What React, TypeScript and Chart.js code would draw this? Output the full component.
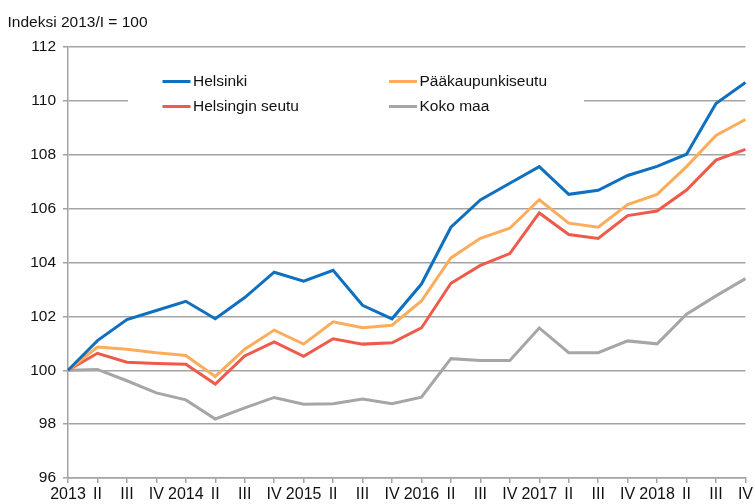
import React, { useEffect, useRef } from "react";
import { Chart, registerables } from "chart.js";

Chart.register(...registerables);

const quarterLabels = [
  "2013", "II", "III", "IV",
  "2014", "II", "III", "IV",
  "2015", "II", "III", "IV",
  "2016", "II", "III", "IV",
  "2017", "II", "III", "IV",
  "2018", "II", "III", "IV",
];

const helsinki = [
  100.0, 101.1, 101.88, 102.22, 102.56, 101.91, 102.7, 103.64,
  103.31, 103.71, 102.41, 101.91, 103.2, 105.31, 106.32, 106.94,
  107.56, 106.53, 106.68, 107.23, 107.57, 108.02, 109.9, 110.68,
];

const paakaupunkiseutu = [
  100.0, 100.86, 100.78, 100.65, 100.55, 99.77, 100.78, 101.49,
  100.97, 101.8, 101.58, 101.67, 102.57, 104.17, 104.9, 105.27,
  106.33, 105.46, 105.31, 106.15, 106.53, 107.56, 108.72, 109.31,
];

const helsinginSeutu = [
  100.0, 100.63, 100.3, 100.25, 100.22, 99.49, 100.53, 101.05,
  100.52, 101.17, 100.97, 101.02, 101.57, 103.23, 103.89, 104.33,
  105.84, 105.04, 104.89, 105.74, 105.91, 106.69, 107.8, 108.2,
];

const kokoMaa = [
  100.0, 100.03, 99.61, 99.16, 98.9, 98.19, 98.6, 98.99,
  98.74, 98.76, 98.93, 98.76, 99.0, 100.43, 100.36, 100.36,
  101.57, 100.65, 100.65, 101.09, 100.98, 102.08, 102.76, 103.4,
];

const yTicks = [96, 98, 100, 102, 104, 106, 108, 110, 112];

const titleText = "Indeksi 2013/I = 100";

const FONT = "'Liberation Sans', Arial, sans-serif";
const GRID = "#a3a3a3";

const colors = {
  helsinki: "#0f70bf",
  paak: "#fbad5b",
  seutu: "#ee5b4a",
  koko: "#a6a6a6",
};

const titlePlugin = {
  id: "titleText",
  afterDraw(chart: any) {
    const { ctx } = chart;
    ctx.save();
    ctx.font = `15.5px ${FONT}`;
    ctx.fillStyle = "#111";
    ctx.textAlign = "left";
    ctx.textBaseline = "alphabetic";
    ctx.fillText(titleText, 7.5, 26.5);
    ctx.restore();
  },
};

const legendPlugin = {
  id: "boxLegend",
  beforeDatasetsDraw(chart: any) {
    const { ctx } = chart;
    const ds = chart.data.datasets;
    ctx.save();
    ctx.fillStyle = "#ffffff";
    ctx.fillRect(128, 60, 456, 62);
    const cols = [162.5, 389];
    const rows = [81.5, 106.5];
    const positions = [
      [0, 0],
      [1, 0],
      [0, 1],
      [1, 1],
    ];
    ds.forEach((d: any, i: number) => {
      const [c, r] = positions[i];
      const x = cols[c];
      const y = rows[r];
      ctx.strokeStyle = d.borderColor;
      ctx.lineWidth = 3;
      ctx.lineCap = "butt";
      ctx.beginPath();
      ctx.moveTo(x, y);
      ctx.lineTo(x + 28, y);
      ctx.stroke();
      ctx.font = `15.5px ${FONT}`;
      ctx.fillStyle = "#111";
      ctx.textAlign = "left";
      ctx.textBaseline = "middle";
      ctx.fillText(d.label, x + 30.5, y + 0.5);
    });
    ctx.restore();
  },
};

export default function App() {
  const ref = useRef<HTMLCanvasElement | null>(null);

  useEffect(() => {
    if (!ref.current) return;
    const chart = new Chart(ref.current, {
      type: "line",
      data: {
        labels: quarterLabels,
        datasets: [
          { label: "Helsinki", data: helsinki, borderColor: colors.helsinki },
          { label: "Pääkaupunkiseutu", data: paakaupunkiseutu, borderColor: colors.paak },
          { label: "Helsingin seutu", data: helsinginSeutu, borderColor: colors.seutu },
          { label: "Koko maa", data: kokoMaa, borderColor: colors.koko },
        ].map((d) => ({
          ...d,
          backgroundColor: d.borderColor,
          borderWidth: 3,
          pointRadius: 0,
          tension: 0,
          fill: false,
          borderJoinStyle: "miter" as const,
        })),
      },
      options: {
        responsive: false,
        animation: false,
        events: [],
        layout: { padding: { top: 47, right: 7, left: 0, bottom: 0 } },
        plugins: {
          legend: { display: false },
          title: { display: false },
          tooltip: { enabled: false },
        },
        scales: {
          x: {
            type: "category",
            offset: false,
            grid: {
              drawOnChartArea: false,
              drawTicks: true,
              tickLength: 5,
              color: GRID,
              lineWidth: 1.5,
            },
            border: { color: GRID, width: 1.5 },
            ticks: {
              autoSkip: false,
              maxRotation: 0,
              minRotation: 0,
              padding: 2,
              color: "#111",
              font: { family: FONT, size: 16 },
            },
            afterFit(scale: any) {
              scale.height = 26;
            },
          },
          y: {
            min: yTicks[0],
            max: yTicks[yTicks.length - 1],
            afterBuildTicks(scale: any) {
              scale.ticks = yTicks.map((v) => ({ value: v }));
            },
            grid: {
              color: GRID,
              lineWidth: 1.5,
              tickLength: 5,
            },
            border: { color: GRID, width: 1.5 },
            ticks: {
              padding: 7,
              color: "#111",
              font: { family: FONT, size: 15.5 },
            },
            afterFit(scale: any) {
              scale.width = 68;
            },
          },
        },
      },
      plugins: [legendPlugin, titlePlugin],
    });
    return () => chart.destroy();
  }, []);

  return (
    <div style={{ position: "fixed", left: 0, top: 0, width: 755, height: 504, background: "#fff" }}>
      <canvas ref={ref} width={755} height={504} style={{ display: "block" }} />
    </div>
  );
}
